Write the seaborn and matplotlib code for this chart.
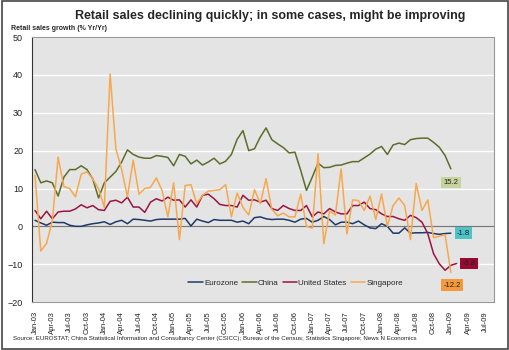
import numpy as np
import pandas as pd
import matplotlib
matplotlib.use("Agg")
import matplotlib.pyplot as plt
import seaborn as sns

# ---- data (monthly, starting Jan-03) ----
months = pd.date_range("2003-01-01", "2009-08-01", freq="MS")
month_labels = [d.strftime("%b-%y") for d in months]

eurozone = [1.6, 0.9, 0.3, 1.1, 1.0, 1.0, 0.3, 0.0, 0.0, 0.4,
            0.7, 0.9, 1.2, 0.5, 1.2, 1.6, 0.7, 1.9, 1.8, 1.6,
            1.4, 1.8, 1.9, 1.9, 1.9, 1.9, 2.1, 0.1, 1.9, 1.4,
            1.0, 1.8, 1.6, 1.6, 1.6, 1.1, 1.4, 0.7, 2.3, 2.5,
            2.0, 1.8, 1.9, 1.9, 1.6, 1.1, 1.9, 2.1, 1.1, 1.6,
            2.6, 1.8, 0.4, 1.1, 1.1, 0.7, 1.4, 0.4, -0.4, -0.6,
            0.7, 0.0, -1.8, -1.8, -0.4, -1.8, -1.7, -1.7, -1.6, -1.9,
            -2.1, -1.9, -1.8]
china = [15.0, 11.5, 12.0, 11.5, 8.0, 13.0, 15.0, 15.0, 16.0, 15.0,
         12.5, 7.5, 11.5, 13.0, 14.5, 17.0, 20.2, 19.0, 18.3, 18.0,
         18.0, 18.7, 18.5, 18.2, 16.0, 19.0, 18.5, 16.5, 17.5, 16.2,
         17.0, 18.0, 16.5, 17.2, 19.0, 23.0, 25.3, 20.0, 20.5, 23.6,
         26.0, 22.9, 21.8, 20.8, 19.4, 19.6, 14.8, 9.5, 13.0, 16.7,
         15.5, 15.6, 16.1, 16.2, 16.7, 17.1, 17.1, 18.1, 19.1, 20.4,
         21.1, 19.0, 21.5, 22.0, 21.6, 22.9, 23.2, 23.3, 23.3, 22.2,
         20.9, 18.7, 15.2]
united_states = [4.2, 2.0, 4.0, 2.0, 3.8, 4.0, 4.0, 4.6, 5.7, 4.9,
                 5.5, 4.4, 4.2, 6.6, 6.9, 6.2, 7.7, 5.1, 5.1, 3.7,
                 6.4, 7.3, 6.7, 7.7, 6.9, 7.0, 5.1, 7.0, 5.1, 8.2,
                 8.5, 7.3, 5.8, 5.5, 5.5, 5.1, 8.2, 6.9, 7.0, 6.4,
                 6.9, 4.7, 4.2, 5.5, 4.7, 4.2, 4.2, 5.5, 2.5, 3.8,
                 3.3, 4.7, 3.8, 3.3, 3.3, 5.5, 5.5, 6.4, 4.7, 4.4,
                 3.3, 2.6, 2.6, 2.0, 1.6, 2.9, 2.3, 1.1, -1.9, -7.2,
                 -9.9, -11.6, -10.3, -9.8]
singapore = [13.5, -6.5, -4.5, 1.5, 18.3, 10.5, 10.0, 7.8, 13.8, 14.4,
             12.5, 10.0, 5.0, 40.3, 20.5, 15.0, 7.8, 17.5, 8.5, 10.0,
             10.3, 12.8, 9.5, 2.5, 11.5, -3.5, 10.8, 11.0, 6.0, 8.2,
             9.3, 9.5, 9.7, 11.0, 2.5, 8.8, 5.0, 3.0, 9.7, 6.0,
             12.6, 4.5, 2.8, 3.5, 2.5, 2.5, 8.5, 0.0, -0.5, 19.2,
             -4.6, 4.0, 3.0, 15.2, -2.0, 7.0, 6.8, 4.2, 8.0, 1.8,
             8.5, 0.0, 5.5, 7.5, 5.5, -3.5, 11.3, 4.2, 7.0, -3.0,
             -2.6, -2.2, -12.2]

series = {"Eurozone": eurozone, "China": china,
          "United States": united_states, "Singapore": singapore}
colors = {"Eurozone": "#1f3a68", "China": "#5b6e2a",
          "United States": "#9a1540", "Singapore": "#f7a84e"}
label_boxes = {"Eurozone": "#4cc3c6", "China": "#c6d39c",
               "United States": "#9a0a30", "Singapore": "#f59a3c"}
label_offsets = {"Eurozone": (9, 0), "China": (0, -10),
                 "United States": (9, 0), "Singapore": (1, -9)}

rows = []
for name, vals in series.items():
    for i, v in enumerate(vals):
        rows.append({"m": i, "value": v, "series": name})
df = pd.DataFrame(rows)

tick_pos = list(range(0, len(months), 3))
tick_lab = [month_labels[i] for i in tick_pos]

# ---- plot ----
sns.set_style("white")
plt.rcParams["font.family"] = ["Liberation Sans", "DejaVu Sans"]

fig = plt.figure(figsize=(5.1, 3.5), dpi=100)
ax = fig.add_axes([0.063, 0.137, 0.906, 0.757])
ax.set_facecolor("#e4e4e4")

sns.lineplot(data=df, x="m", y="value", hue="series", palette=colors,
             hue_order=list(series.keys()), linewidth=1.1, ax=ax,
             legend=True)

ax.set_xlim(-0.5, len(months) - 0.5)
ax.set_ylim(-20, 50)
ax.set_yticks(range(-20, 51, 10))
ax.yaxis.grid(True, color="white", linewidth=1.0)
ax.set_axisbelow(True)
ax.axhline(0, color="#777777", linewidth=0.9, zorder=1.5)
ax.set_xticks(tick_pos)
ax.set_xticklabels(tick_lab, rotation=90, fontsize=5.5, color="#222222")
ax.tick_params(axis="y", labelsize=6.5, colors="#222222", length=3)
ax.tick_params(axis="x", length=3, colors="#222222")
ax.set_xlabel("")
ax.set_ylabel("")
for s in ax.spines.values():
    s.set_color("#999999")
    s.set_linewidth(0.8)
ax.spines["left"].set_color("#333333")

# end-value labels
for name, vals in series.items():
    last = len(vals) - 1
    ax.annotate(f"{vals[-1]:.1f}", xy=(last, vals[-1]),
                xytext=label_offsets[name], textcoords="offset points",
                ha="center", va="center", fontsize=5.5, color="#222222",
                bbox=dict(boxstyle="square,pad=0.3", fc=label_boxes[name],
                          ec="none"))

leg = ax.legend(loc="lower center", bbox_to_anchor=(0.57, 0.03), ncol=4,
                frameon=False, fontsize=5.8, handlelength=1.8,
                columnspacing=0.5, handletextpad=0.15)

fig.text(0.53, 0.955, "Retail sales declining quickly; in some cases, might be improving",
         ha="center", va="center", fontsize=9, fontweight="bold")
fig.text(0.022, 0.92, "Retail sales growth (% Yr/Yr)", ha="left", va="center",
         fontsize=5, fontweight="bold")
fig.text(0.025, 0.034,
         "Source: EUROSTAT; China Statistical Information and Consultancy Center (CSICC); "
         "Bureau of the Census; Statistics Singapore; News N Economics",
         ha="left", va="center", fontsize=4.4, color="#222222")

# outer frame
fig.patches.append(plt.Rectangle((0.003, 0.003), 0.994, 0.994, transform=fig.transFigure,
                                 fill=False, ec="#444444", lw=1.2))

fig.savefig("out.png", dpi=100)
